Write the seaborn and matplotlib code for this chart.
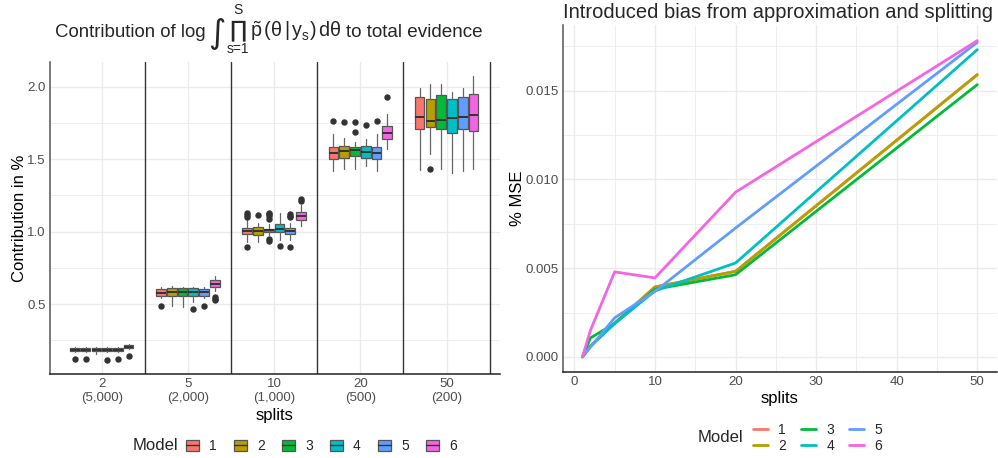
import pandas as pd
import matplotlib
matplotlib.use("Agg")
import matplotlib.pyplot as plt
import seaborn as sns
from matplotlib.patches import Patch
from matplotlib.lines import Line2D
from matplotlib.legend_handler import HandlerTuple
from matplotlib.transforms import IdentityTransform

models = ["1", "2", "3", "4", "5", "6"]
model_colors = ["#F8766D", "#B79F00", "#00BA38", "#00BFC4", "#619CFF", "#F564E3"]

# left panel: box statistics (rows = splits, cols = models)
split_labels = ["2\n(5,000)", "5\n(2,000)", "10\n(1,000)", "20\n(500)", "50\n(200)"]

box_q1 = [
    [0.175, 0.175, 0.176, 0.175, 0.175, 0.196],
    [0.556, 0.552, 0.556, 0.558, 0.556, 0.614],
    [0.986, 0.979, 0.998, 0.996, 0.986, 1.083],
    [1.501, 1.510, 1.524, 1.508, 1.501, 1.639],
    [1.710, 1.724, 1.706, 1.678, 1.710, 1.697],
]
box_med = [
    [0.186, 0.185, 0.186, 0.186, 0.186, 0.206],
    [0.579, 0.580, 0.580, 0.583, 0.580, 0.639],
    [1.005, 1.005, 1.008, 1.015, 1.005, 1.110],
    [1.545, 1.556, 1.560, 1.550, 1.545, 1.683],
    [1.791, 1.766, 1.770, 1.786, 1.790, 1.807],
]
box_q3 = [
    [0.197, 0.196, 0.197, 0.197, 0.197, 0.216],
    [0.603, 0.609, 0.609, 0.611, 0.603, 0.669],
    [1.026, 1.033, 1.018, 1.053, 1.024, 1.136],
    [1.582, 1.589, 1.582, 1.593, 1.582, 1.727],
    [1.931, 1.917, 1.943, 1.917, 1.931, 1.950],
]
whisk_lo = [
    [0.167, 0.167, 0.157, 0.167, 0.167, 0.188],
    [0.541, 0.488, 0.479, 0.517, 0.541, 0.590],
    [0.931, 0.930, 0.977, 0.943, 0.943, 1.035],
    [1.420, 1.430, 1.433, 1.450, 1.420, 1.568],
    [1.425, 1.534, 1.435, 1.407, 1.420, 1.430],
]
whisk_hi = [
    [0.205, 0.204, 0.205, 0.205, 0.205, 0.224],
    [0.618, 0.625, 0.620, 0.620, 0.615, 0.690],
    [1.080, 1.060, 1.055, 1.127, 1.060, 1.180],
    [1.674, 1.645, 1.620, 1.640, 1.672, 1.810],
    [1.993, 2.020, 2.015, 1.960, 1.993, 2.074],
]
outliers = [
    [[0.120], [0.120], [], [0.113], [0.120], [0.143]],
    [[0.483], [], [], [0.467], [0.483], [0.545, 0.535, 0.525]],
    [[1.100, 1.113, 1.125, 0.892], [1.115], [1.090, 1.105, 1.118, 1.130, 0.932, 0.946],
     [0.900], [1.100, 1.110, 1.120, 0.892], [1.210, 1.222]],
    [[1.763], [1.758], [1.754, 1.688], [1.735], [1.763], [1.930]],
    [[], [1.430], [], [], [], []],
]

# right panel: % MSE per number of splits
mse_splits = [1, 2, 5, 10, 20, 50]
mse_m1 = [0.0, 0.00062, 0.00190, 0.00394, 0.00482, 0.01590]
mse_m2 = [0.0, 0.00062, 0.00190, 0.00394, 0.00482, 0.01590]
mse_m3 = [0.0, 0.00107, 0.00188, 0.00381, 0.00463, 0.01534]
mse_m4 = [0.0, 0.00060, 0.00188, 0.00372, 0.00529, 0.01731]
mse_m5 = [0.0, 0.00055, 0.00220, 0.00369, 0.00726, 0.01772]
mse_m6 = [0.0, 0.00150, 0.00479, 0.00445, 0.00928, 0.01782]

sns.set_theme(style="white")
plt.rcParams["font.family"] = ["Liberation Sans", "DejaVu Sans"]
plt.rcParams["mathtext.fontset"] = "custom"
plt.rcParams["mathtext.rm"] = "Liberation Sans"
plt.rcParams["mathtext.it"] = "Liberation Sans"

TICK = "#4D4D4D"
GRID = "#EBEBEB"

fig = plt.figure(figsize=(9.98, 4.58), dpi=100)

# ---------------- left: boxplots ----------------
ax1 = fig.add_axes([0.0501, 0.1834, 0.4509, 0.6812])
stats, positions = [], []
for i in range(len(split_labels)):
    for j in range(len(models)):
        stats.append(dict(q1=box_q1[i][j], med=box_med[i][j], q3=box_q3[i][j],
                          whislo=whisk_lo[i][j], whishi=whisk_hi[i][j],
                          fliers=outliers[i][j]))
        positions.append(i + (j - 2.5) * 0.125)

bp = ax1.bxp(stats, positions=positions, widths=0.112, patch_artist=True,
             showcaps=False, manage_ticks=False,
             boxprops=dict(edgecolor="#555555", linewidth=0.9),
             whiskerprops=dict(color="#666666", linewidth=0.9),
             medianprops=dict(color="#333333", linewidth=1.4),
             flierprops=dict(marker="o", markerfacecolor="#333333",
                             markeredgecolor="#333333", markersize=3.6))
for k, patch in enumerate(bp["boxes"]):
    patch.set_facecolor(model_colors[k % len(models)])

for i in range(len(split_labels)):
    ax1.axvline(i + 0.5, color="#333333", lw=1, zorder=1)

ax1.set_xlim(-0.6, 4.62)
ax1.set_ylim(0.017, 2.17)
ax1.set_xticks(range(len(split_labels)))
ax1.set_xticklabels(split_labels, linespacing=1.15)
ax1.set_yticks([0.5, 1.0, 1.5, 2.0])
ax1.set_yticklabels(["0.5", "1.0", "1.5", "2.0"])
ax1.set_yticks([0.25, 0.75, 1.25, 1.75], minor=True)
ax1.grid(True, which="major", color=GRID, lw=1, zorder=0)
ax1.grid(True, which="minor", axis="y", color=GRID, lw=0.6, zorder=0)
ax1.set_axisbelow(True)
ax1.set_xlabel("splits", fontsize=12, labelpad=3.5)
ax1.set_ylabel("Contribution in %", fontsize=12, labelpad=0)

# ---------------- right: MSE lines ----------------
ax2 = fig.add_axes([0.5638, 0.1878, 0.4352, 0.7576])
series = [mse_m1, mse_m2, mse_m3, mse_m4, mse_m5, mse_m6]
df = pd.DataFrame({
    "splits": mse_splits * len(models),
    "mse": [v for s in series for v in s],
    "Model": [m for m in models for _ in mse_splits],
})
sns.lineplot(data=df, x="splits", y="mse", hue="Model", palette=model_colors,
             linewidth=2, legend=False, ax=ax2)
ax2.set_xlim(-1.45, 52.45)
ax2.set_ylim(-0.00085, 0.0187)
ax2.set_xticks([0, 10, 20, 30, 40, 50])
ax2.set_xticks([5, 15, 25, 35, 45], minor=True)
ax2.set_yticks([0.0, 0.005, 0.010, 0.015])
ax2.set_yticklabels(["0.000", "0.005", "0.010", "0.015"])
ax2.set_yticks([0.0025, 0.0075, 0.0125, 0.0175], minor=True)
ax2.grid(True, which="major", color=GRID, lw=1, zorder=0)
ax2.grid(True, which="minor", color=GRID, lw=0.6, zorder=0)
ax2.set_axisbelow(True)
ax2.set_xlabel("splits", fontsize=12, labelpad=2)
ax2.set_ylabel("% MSE", fontsize=12, labelpad=0)

for ax in (ax1, ax2):
    for side in ("top", "right"):
        ax.spines[side].set_visible(False)
    ax.spines["left"].set_color("#555555")
    ax.spines["left"].set_linewidth(1.1)
    ax.spines["bottom"].set_color("#222222")
    ax.spines["bottom"].set_linewidth(1.1)
    ax.tick_params(which="both", length=0, labelsize=9.5, labelcolor=TICK, pad=3)
    ax.xaxis.label.set_color("black")
    ax.yaxis.label.set_color("black")

# left title, pieced together so the integral and product come out large
renderer = fig.canvas.get_renderer()
px = IdentityTransform()
H = 458
base = H - 37


def put(s, x, y, size, **kw):
    t = fig.text(x, y, s, transform=px, fontsize=size, **kw)
    return t.get_window_extent(renderer).width


x = 55
x += put("Contribution of log", x, base, 13.4, va="baseline") + 3
x += put("\u222b", x, base - 6, 24, va="baseline", family="DejaVu Sans") + 3
w = put("\u220f", x, base + 1, 16.5, va="baseline", family="DejaVu Sans")
put("S", x + w / 2, H - 10, 10, ha="center", va="center")
put("s=1", x + w / 2, H - 49, 10, ha="center", va="center")
x += w + 4
x += put(r"$\tilde{p}\,(\theta\,|\,y_s)\,d\theta$", x, base, 14.2, va="baseline") + 4
put("to total evidence", x, base, 13.6, va="baseline")

fig.text(778 / 998, 1 - 13 / 458, "Introduced bias from approximation and splitting",
         ha="center", va="center", fontsize=14.5)

# legends
fig.text(133 / 998, 1 - 446 / 458, "Model", fontsize=12, va="center")
box_handles = [(Patch(facecolor=c, edgecolor="#555555", lw=0.9),
                Line2D([], [], color="#333333", lw=1)) for c in model_colors]
fig.legend(box_handles, models, ncol=6, loc="center left",
           bbox_to_anchor=(186 / 998, 1 - 446 / 458), frameon=False,
           handler_map={tuple: HandlerTuple(ndivide=1, pad=0)},
           handlelength=0.95, handleheight=0.85, handletextpad=0.7,
           columnspacing=1.25, fontsize=10, borderaxespad=0, borderpad=0)

fig.text(698 / 998, 1 - 438 / 458, "Model", fontsize=12, va="center")
line_handles = [Line2D([], [], color=c, lw=2) for c in model_colors]
fig.legend(line_handles, models, ncol=3, loc="center left",
           bbox_to_anchor=(753 / 998, 1 - 438 / 458), frameon=False,
           handlelength=1.1, handletextpad=0.7, columnspacing=1.1,
           labelspacing=0.15, fontsize=10, borderaxespad=0, borderpad=0)

fig.savefig("out.png", dpi=100)
